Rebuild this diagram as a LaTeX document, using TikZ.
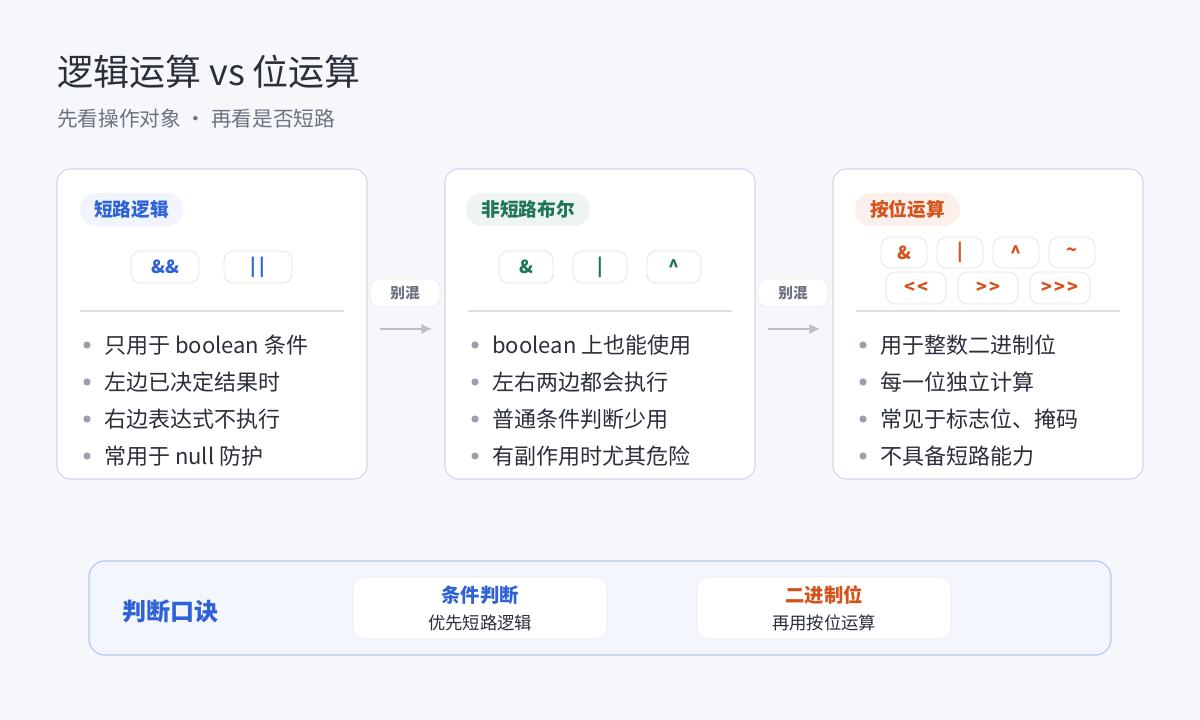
\documentclass[tikz,border=0pt]{standalone}
\usepackage{fontspec}
\usetikzlibrary{arrows.meta}
\setmainfont{Noto Sans CJK SC}
\definecolor{bg}{HTML}{F5F7FB}
\definecolor{cardb}{HTML}{D3D6E6}
\definecolor{txt}{HTML}{2B2F3A}
\definecolor{sub}{HTML}{6B7280}
\definecolor{blu}{HTML}{2F62D6}
\definecolor{grn}{HTML}{1E7558}
\definecolor{org}{HTML}{D4531C}
\definecolor{bul}{HTML}{9CA0AC}
\tikzset{
 px/.style={x=0.75pt,y=-0.75pt},
 card/.style={draw=cardb,fill=white,rounded corners=10pt,line width=0.8pt},
 pill/.style={draw=black!10,fill=white,rounded corners=7pt,line width=0.6pt},
 opt/.style={font=\fontsize{13.5}{15}\selectfont\bfseries},
 item/.style={anchor=west,font=\fontsize{16.5}{19}\selectfont,text=txt,inner sep=0pt},
}
\newcommand{\bull}[3]{\fill[bul] (#1,#2) circle (3.6);\node[item] at (#1+17,#2) {#3};}
\newcommand{\lt}{<\kern1.5pt}
\newcommand{\gt}{>\kern1.5pt}
\begin{document}
\begin{tikzpicture}[px]
\useasboundingbox (0,0) rectangle (1200,720);
\fill[bg] (0,0) rectangle (1200,720);
\node[anchor=west,inner sep=0pt,font=\fontsize{27}{30}\selectfont,text=txt] (title) at (57,72) {逻辑运算 vs 位运算};
\node[anchor=west,inner sep=0pt,font=\fontsize{15.5}{18}\selectfont,text=sub] (subt) at (57,119) {先看操作对象\ ·\ 再看是否短路};
% cards
\foreach \x/\n in {57/c1,445/c2,833/c3}{
 \draw[card] (\x,169) rectangle (\x+310,479);
 \draw[black!12,line width=0.8pt] (\x+23,311) -- (\x+287,311);
}
% tags
\draw[fill=blu!7,draw=none,rounded corners=12pt] (80,193) rectangle (183,226);
\node[text=blu,font=\fontsize{14}{16}\selectfont\bfseries] (t1) at (131.5,209.5) {短路逻辑};
\draw[fill=grn!8,draw=none,rounded corners=12pt] (466,193) rectangle (590,226);
\node[text=grn,font=\fontsize{14}{16}\selectfont\bfseries] (t2) at (528,209.5) {非短路布尔};
\draw[fill=org!9,draw=none,rounded corners=12pt] (855,193) rectangle (960,226);
\node[text=org,font=\fontsize{14}{16}\selectfont\bfseries] (t3) at (907.5,209.5) {按位运算};
% pills card1
\draw[pill] (131,251) rectangle (199,283); \node[opt,text=blu] (o1) at (165,267) {\&\&};
\draw[pill] (224,251) rectangle (292,283); \node[opt,text=blu] (o2) at (258,267) {|\kern3pt|};
% card2
\foreach \a/\t [count=\i] in {499/\&,573/|,647/\textasciicircum}{
 \draw[pill] (\a,251) rectangle (\a+54,283); \node[opt,text=grn] (p\i) at (\a+27,267) {\t};}
% card3
\foreach \a/\t [count=\i] in {881/\&,937/|,993/\textasciicircum,1049/\textasciitilde}{
 \draw[pill] (\a,237) rectangle (\a+46,268); \node[opt,text=org] (q\i) at (\a+23,252.5) {\t};}
\foreach \a/\t [count=\i] in {886/{\lt<},958/{\gt>},1030/{\gt\gt>}}{
 \draw[pill] (\a,272) rectangle (\a+60,304); \node[opt,text=org] (r\i) at (\a+30,288) {\t};}
% bullets
\bull{87}{345}{只用于 boolean 条件}
\bull{87}{382}{左边已决定结果时}
\bull{87}{419}{右边表达式不执行}
\bull{87}{456}{常用于 null 防护}
\bull{475}{345}{boolean 上也能使用}
\bull{475}{382}{左右两边都会执行}
\bull{475}{419}{普通条件判断少用}
\bull{475}{456}{有副作用时尤其危险}
\bull{863}{345}{用于整数二进制位}
\bull{863}{382}{每一位独立计算}
\bull{863}{419}{常见于标志位、掩码}
\bull{863}{456}{不具备短路能力}
% arrows
\foreach \a [count=\i] in {370,758}{
 \draw[pill,draw=black!8] (\a,279) rectangle (\a+70,307);
 \node[text=sub,font=\fontsize{11}{13}\selectfont\bfseries] (m\i) at (\a+35,293) {别混};
 \coordinate (s\i) at (\a+10,329); \coordinate (e\i) at (\a+62,329);
 \draw[black!25,line width=1.5pt,-{Latex[length=8pt,width=8pt]}] (s\i) -- (e\i);
}
% bottom
\draw[fill=blu!6,draw=blu!35,line width=0.9pt,rounded corners=12pt] (89,561) rectangle (1111,655);
\node[anchor=west,inner sep=0pt,text=blu,font=\fontsize{18}{20}\selectfont\bfseries] (k) at (122,611) {判断口诀};
\draw[fill=white,draw=black!8,rounded corners=9pt] (353,577) rectangle (607,639);
\node[text=blu,font=\fontsize{14.5}{16}\selectfont\bfseries] (b1) at (480,595) {条件判断};
\node[text=txt,font=\fontsize{13}{15}\selectfont] (b1s) at (480,623) {优先短路逻辑};
\draw[fill=white,draw=black!8,rounded corners=9pt] (697,577) rectangle (951,639);
\node[text=org,font=\fontsize{14.5}{16}\selectfont\bfseries] (b2) at (824,595) {二进制位};
\node[text=txt,font=\fontsize{13}{15}\selectfont] (b2s) at (824,623) {再用按位运算};
\end{tikzpicture}
\end{document}
